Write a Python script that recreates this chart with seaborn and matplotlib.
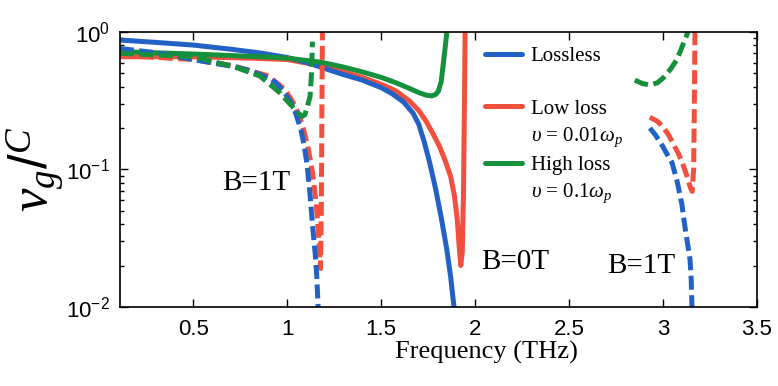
import numpy as np
import pandas as pd
import matplotlib
matplotlib.use("Agg")
import matplotlib.pyplot as plt
from matplotlib.lines import Line2D
from matplotlib.ticker import LogLocator, FixedLocator, FixedFormatter, NullFormatter
import seaborn as sns

# ---------------- data ----------------
# B = 0T, lossless (blue solid)
f_b0_lossless = [0.11, 0.3, 0.5, 0.7, 0.86, 1.0, 1.1, 1.2, 1.3, 1.4, 1.5, 1.56, 1.62, 1.67, 1.70, 1.73, 1.76, 1.79, 1.82, 1.85, 1.87, 1.888]
v_b0_lossless = [0.875, 0.841, 0.804, 0.750, 0.703, 0.653, 0.603, 0.543, 0.490, 0.447, 0.394, 0.355, 0.309, 0.257, 0.214, 0.158, 0.110, 0.0724, 0.0447, 0.026, 0.0166, 0.01]
# B = 0T, low loss (red solid)
f_b0_low = [0.11, 0.5, 0.8, 1.0, 1.2, 1.3, 1.4, 1.5, 1.58, 1.65, 1.70, 1.74, 1.78, 1.81, 1.84, 1.87, 1.89, 1.905, 1.915, 1.924, 1.932, 1.938, 1.943, 1.947]
v_b0_low = [0.661, 0.661, 0.646, 0.631, 0.562, 0.513, 0.468, 0.417, 0.372, 0.316, 0.269, 0.224, 0.178, 0.148, 0.117, 0.089, 0.0646, 0.0437, 0.0282, 0.020, 0.025, 0.063, 0.251, 1.0]
# B = 0T, high loss (green solid)
f_b0_high = [0.11, 0.5, 0.86, 1.0, 1.18, 1.3, 1.4, 1.5, 1.58, 1.65, 1.70, 1.74, 1.77, 1.79, 1.805, 1.82, 1.832, 1.842, 1.85]
v_b0_high = [0.72, 0.692, 0.661, 0.646, 0.603, 0.556, 0.513, 0.468, 0.427, 0.389, 0.363, 0.347, 0.343, 0.351, 0.372, 0.437, 0.603, 0.794, 1.0]

# B = 1T, lower branch
f_b1_lossless_lo = [0.11, 0.3, 0.5, 0.6, 0.713, 0.8, 0.894, 0.94, 0.98, 1.01, 1.035, 1.055, 1.075, 1.09, 1.105, 1.12, 1.135, 1.15, 1.158, 1.165]
v_b1_lossless_lo = [0.759, 0.708, 0.631, 0.596, 0.562, 0.525, 0.468, 0.427, 0.372, 0.324, 0.282, 0.234, 0.191, 0.151, 0.112, 0.0708, 0.0398, 0.024, 0.0166, 0.01]
f_b1_low_lo = [0.11, 0.5, 0.713, 0.9, 0.99, 1.04, 1.08, 1.11, 1.135, 1.155, 1.168, 1.178, 1.182, 1.185, 1.188]
v_b1_low_lo = [0.676, 0.631, 0.569, 0.479, 0.380, 0.295, 0.214, 0.148, 0.0955, 0.0562, 0.0331, 0.019, 0.050, 0.251, 1.0]
f_b1_high_lo = [0.11, 0.5, 0.713, 0.855, 0.96, 1.03, 1.06, 1.08, 1.095, 1.11, 1.122, 1.13, 1.135]
v_b1_high_lo = [0.700, 0.661, 0.562, 0.479, 0.363, 0.285, 0.257, 0.243, 0.251, 0.295, 0.339, 0.501, 0.851]

# B = 1T, upper branch
f_b1_lossless_up = [2.93, 2.96, 3.0, 3.03, 3.048, 3.074, 3.10, 3.117, 3.133, 3.144, 3.15, 3.154]
v_b1_lossless_up = [0.20, 0.178, 0.146, 0.123, 0.112, 0.0832, 0.0562, 0.038, 0.0275, 0.0219, 0.0158, 0.01]
f_b1_low_up = [2.93, 2.97, 3.0, 3.03, 3.053, 3.08, 3.105, 3.128, 3.145, 3.155, 3.163, 3.167, 3.17]
v_b1_low_up = [0.24, 0.224, 0.204, 0.178, 0.155, 0.132, 0.110, 0.089, 0.0741, 0.0692, 0.10, 0.316, 1.0]
f_b1_high_up = [2.85, 2.89, 2.93, 2.97, 3.0, 3.04, 3.074, 3.095, 3.115, 3.133]
v_b1_high_up = [0.447, 0.422, 0.412, 0.427, 0.462, 0.537, 0.631, 0.741, 0.871, 1.0]

x_ticks = [0.5, 1, 1.5, 2, 2.5, 3, 3.5]
x_ticklabels = ["0.5", "1", "1.5", "2", "2.5", "3", "3.5"]
legend_labels = ["Lossless", "", "Low loss", r"$\upsilon$ = 0.01$\omega_p$", "High loss", r"$\upsilon$ = 0.1$\omega_p$"]
annotations = [("B=1T", 0.835, 0.08), ("B=0T", 2.213, 0.0212), ("B=1T", 2.883, 0.02)]

# ---------------- style ----------------
sns.set_style("ticks")
plt.rcParams["font.family"] = ["Liberation Sans", "DejaVu Sans"]
plt.rcParams["mathtext.fontset"] = "custom"
plt.rcParams["mathtext.rm"] = "Liberation Sans"
plt.rcParams["mathtext.it"] = "Liberation Serif:italic"
plt.rcParams["mathtext.bf"] = "Liberation Serif:bold"
for k in ["text.color", "axes.labelcolor", "xtick.color", "ytick.color", "axes.edgecolor"]:
    plt.rcParams[k] = "black"

BLUE = "#2262c6"
RED = "#f2503f"
GREEN = "#15913d"
LW = 3.6
DASH = (0, (2.8, 1.1))
SERIF = ["Liberation Serif", "DejaVu Serif"]

fig = plt.figure(figsize=(7.78, 3.86), dpi=100)
ax = fig.add_axes([0.154, 0.205, 0.819, 0.712])

def draw(f, v, color, ls="-"):
    df = pd.DataFrame({"f": f, "v": v})
    sns.lineplot(data=df, x="f", y="v", sort=False, estimator=None, color=color,
                 lw=LW, linestyle=ls, ax=ax, legend=False)

draw(f_b0_low, v_b0_low, RED)
draw(f_b0_lossless, v_b0_lossless, BLUE)
draw(f_b0_high, v_b0_high, GREEN)
draw(f_b1_low_lo, v_b1_low_lo, RED, DASH)
draw(f_b1_lossless_lo, v_b1_lossless_lo, BLUE, DASH)
draw(f_b1_high_lo, v_b1_high_lo, GREEN, DASH)
draw(f_b1_low_up, v_b1_low_up, RED, DASH)
draw(f_b1_lossless_up, v_b1_lossless_up, BLUE, DASH)
draw(f_b1_high_up, v_b1_high_up, GREEN, DASH)

ax.set_yscale("log")
ax.set_xlim(0.11, 3.5)
ax.set_ylim(0.01, 1.0)
ax.xaxis.set_major_locator(FixedLocator(x_ticks))
ax.xaxis.set_major_formatter(FixedFormatter(x_ticklabels))
ax.yaxis.set_major_locator(LogLocator(base=10, numticks=5))
ax.yaxis.set_minor_locator(LogLocator(base=10, subs=np.arange(2, 10), numticks=20))
ax.yaxis.set_minor_formatter(NullFormatter())
ax.tick_params(which="both", direction="in", top=True, right=True, labelsize=16, width=1.0)
ax.tick_params(axis="x", pad=9)
ax.tick_params(axis="y", pad=7)
ax.tick_params(which="major", length=6)
ax.tick_params(which="minor", length=3)
for s in ax.spines.values():
    s.set_linewidth(1.2)
    s.set_color("black")

ax.set_xlabel("Frequency (THz)", fontsize=19, family=SERIF)
ax.xaxis.set_label_coords(0.576, -0.125)
ax.set_ylabel(r"$v_{g}/^{C}$", fontsize=38, labelpad=0)

for txt, x, y in annotations:
    ax.text(x, y, txt, fontsize=21, family=SERIF, ha="center", va="center")

colors = [BLUE, "none", RED, "none", GREEN, "none"]
handles = [Line2D([], [], color=c, lw=LW) for c in colors]
leg = ax.legend(handles, legend_labels, loc="upper left", bbox_to_anchor=(0.55, 1.0),
                frameon=False, prop={"family": SERIF, "size": 15}, handlelength=1.8,
                handletextpad=0.4, labelspacing=0.32, borderpad=0.2)

fig.savefig("out.png", dpi=100)
